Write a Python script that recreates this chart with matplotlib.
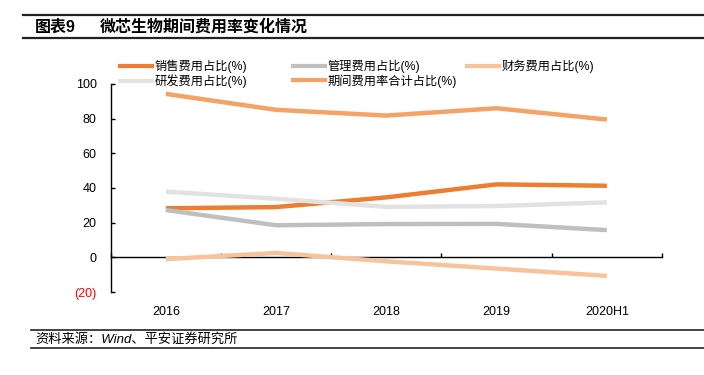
import matplotlib
matplotlib.use("Agg")
from matplotlib import pyplot as plt
from matplotlib.lines import Line2D
import numpy as np

plt.rcParams['font.family'] = ['Liberation Sans', 'Noto Sans CJK SC']

# data
years = ['2016', '2017', '2018', '2019', '2020H1']
sales = [28.3, 29.0, 34.6, 42.1, 41.3]      # 销售
admin = [27.3, 18.5, 19.2, 19.3, 15.7]      # 管理
finance = [-1.0, 2.5, -2.3, -6.5, -10.7]    # 财务
rnd = [37.9, 33.8, 29.1, 29.6, 31.7]        # 研发
total = [94.3, 85.1, 81.8, 86.0, 79.5]      # 期间合计

yticks = [-20, 0, 20, 40, 60, 80, 100]
ytick_labels = ['(20)', '0', '20', '40', '60', '80', '100']

series = [
    ('销售费用占比(%)', sales, '#ED7D31'),
    ('管理费用占比(%)', admin, '#BFBFBF'),
    ('财务费用占比(%)', finance, '#F8C39B'),
    ('研发费用占比(%)', rnd, '#E2E2E2'),
    ('期间费用率合计占比(%)', total, '#F4A265'),
]

W, H = 704, 375
fig = plt.figure(figsize=(W / 100, H / 100), dpi=100)
ax = fig.add_axes([110.7 / W, 1 - 292 / H, (662 - 110.7) / W, (292 - 84) / H])

x = np.arange(len(years))
lines = {}
for name, vals, col in series:
    ln, = ax.plot(x, vals, color=col, lw=3.2, solid_capstyle='butt', zorder=3)
    lines[name] = ln

ax.set_xlim(-0.5, len(years) - 0.5)
ax.set_ylim(-20, 100)

for s in ['top', 'right']:
    ax.spines[s].set_visible(False)
ax.spines['bottom'].set_position(('data', 0))
ax.spines['bottom'].set_linewidth(1)
ax.spines['left'].set_linewidth(1)

ax.set_xticks(x)
ax.set_xticklabels(years, fontsize=9)
ax.set_xticks(np.arange(len(years) + 1) - 0.5, minor=True)
ax.tick_params(axis='x', which='major', length=0, pad=35)
ax.tick_params(axis='x', which='minor', direction='in', length=3, width=1)

ax.set_yticks(yticks)
ax.set_yticklabels(ytick_labels, fontsize=9)
ax.tick_params(axis='y', direction='in', length=3, width=1, pad=10)
ax.get_yticklabels()[0].set_color('red')

# legend in three fixed columns like the source
cols = [
    (120, ['销售费用占比(%)', '研发费用占比(%)']),
    (293, ['管理费用占比(%)', '期间费用率合计占比(%)']),
    (467, ['财务费用占比(%)']),
]
for x0, names in cols:
    hs = [Line2D([], [], color=lines[n].get_color(), lw=3) for n in names]
    fig.legend(hs, names, loc='upper left', bbox_to_anchor=(x0 / W, 1 - 60 / H),
               frameon=False, fontsize=8.8, handlelength=2.6, handletextpad=0.25,
               labelspacing=0.08, borderpad=0, borderaxespad=0)

# title block
fig.add_artist(Line2D([23 / W, 1], [1 - 15 / H] * 2, color='#222222', lw=1.6))
fig.add_artist(Line2D([23 / W, 1], [1 - 38 / H] * 2, color='#222222', lw=1.6))
fig.text(35 / W, 1 - 27 / H, '图表9', fontsize=11.5, fontweight='bold', va='center')
fig.text(100 / W, 1 - 27 / H, '微芯生物期间费用率变化情况', fontsize=11.5, fontweight='bold', va='center')

# source block
fig.add_artist(Line2D([31 / W, 1], [1 - 330 / H] * 2, color='#222222', lw=1.2))
fig.add_artist(Line2D([31 / W, 1], [1 - 348 / H] * 2, color='#222222', lw=1.2))
fig.text(35 / W, 1 - 339 / H, '资料来源：Wind、平安证券研究所', fontsize=9.5, style='italic', va='center')

fig.savefig('out.png', dpi=100)
